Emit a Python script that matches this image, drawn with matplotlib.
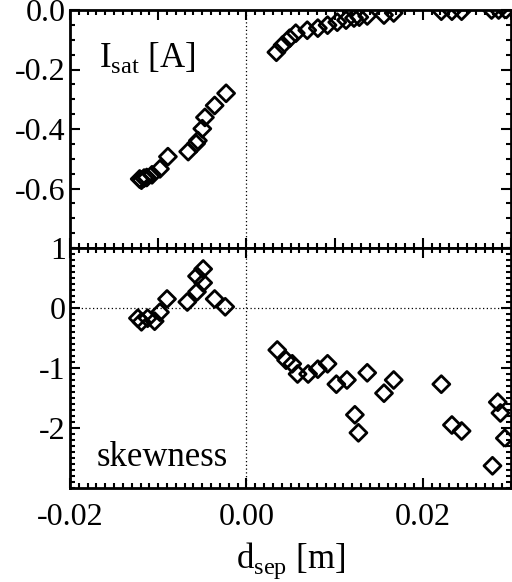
import numpy as np
import matplotlib
matplotlib.use('Agg')
import matplotlib.pyplot as plt
from matplotlib.ticker import MultipleLocator

plt.rcParams['font.family'] = ['Liberation Serif', 'DejaVu Serif']
plt.rcParams['mathtext.fontset'] = 'custom'
plt.rcParams['mathtext.rm'] = 'Liberation Serif'

# Isat [A] vs d_sep
isat_x = [-0.0121, -0.0119, -0.0116, -0.0113, -0.0107, -0.0098, -0.0089,
          -0.0066, -0.0057, -0.0055, -0.0050, -0.0047, -0.0036, -0.0023,
          0.0034, 0.0041, 0.0049, 0.0056, 0.0069, 0.0081, 0.0092, 0.0103,
          0.0113, 0.0122, 0.0128, 0.0137, 0.0156, 0.0167, 0.0221, 0.0233,
          0.0244, 0.0278, 0.0286, 0.0294]
isat_y = [-0.568, -0.572, -0.565, -0.563, -0.554, -0.534, -0.493,
          -0.476, -0.449, -0.439, -0.399, -0.361, -0.321, -0.280,
          -0.142, -0.118, -0.095, -0.078, -0.068, -0.061, -0.051, -0.041,
          -0.034, -0.027, -0.024, -0.020, -0.017, -0.010, -0.004, -0.004,
          -0.004, 0.000, 0.000, 0.000]

# skewness vs d_sep
skew_x = [-0.0123, -0.0119, -0.0112, -0.0104, -0.0098, -0.0090, -0.0067,
          -0.0056, -0.0049, -0.0056, -0.0049, -0.0036, -0.0024,
          0.0035, 0.0045, 0.0052, 0.0058, 0.0070, 0.0081, 0.0092, 0.0102,
          0.0114, 0.0137, 0.0123, 0.0127, 0.0156, 0.0167, 0.0221, 0.0233,
          0.0244, 0.0279, 0.0285, 0.0288, 0.0293]
skew_y = [-0.17, -0.23, -0.17, -0.22, -0.07, 0.15, 0.10,
          0.27, 0.42, 0.53, 0.65, 0.15, 0.02,
          -0.70, -0.87, -0.93, -1.10, -1.10, -1.02, -0.93, -1.27,
          -1.20, -1.08, -1.78, -2.08, -1.42, -1.20, -1.27, -1.95,
          -2.05, -2.63, -1.57, -1.75, -2.17]

fig = plt.figure(figsize=(5.12, 5.82), dpi=100)
L, R = 70 / 512, 511 / 512
ax1 = fig.add_axes([L, 1 - 248 / 582, R - L, 238 / 582])
ax2 = fig.add_axes([L, 1 - 488 / 582, R - L, 240 / 582])

mk = dict(marker='D', s=75, facecolors='none', edgecolors='black',
          linewidths=2.0, clip_on=True, zorder=3)

ax1.scatter(isat_x, isat_y, **mk)
ax2.scatter(skew_x, skew_y, **mk)

for ax in (ax1, ax2):
    ax.set_xlim(-0.02, 0.03)
    ax.axvline(0, color='black', linestyle=(0, (1, 2)), linewidth=0.9)
    ax.xaxis.set_major_locator(MultipleLocator(0.01))
    ax.xaxis.set_minor_locator(MultipleLocator(0.001))
    ax.tick_params(which='both', direction='in', top=True, right=True,
                   labelsize=23, width=1.5)
    ax.tick_params(axis='y', pad=3)
    ax.tick_params(axis='x', pad=11)
    ax.tick_params(which='major', length=7)
    ax.tick_params(which='minor', length=3.5)
    for sp in ax.spines.values():
        sp.set_linewidth(2)

ax1.set_ylim(-0.8, 0.0)
ax1.yaxis.set_major_locator(MultipleLocator(0.2))
ax1.yaxis.set_minor_locator(MultipleLocator(0.05))
ax1.set_yticks([-0.6, -0.4, -0.2, 0.0])
ax1.set_yticklabels(['-0.6', '-0.4', '-0.2', '0.0'])
ax1.set_xticklabels([])
ax1.text(0.065, 0.80, r'I$_{\mathrm{sat}}$ [A]', transform=ax1.transAxes,
         fontsize=25, ha='left', va='center')

ax2.set_ylim(-3, 1)
ax2.yaxis.set_major_locator(MultipleLocator(1))
ax2.yaxis.set_minor_locator(MultipleLocator(0.1))
ax2.set_yticks([-2, -1, 0, 1])
ax2.set_yticklabels(['-2', '-1', '0', '1'])
ax2.axhline(0, color='black', linestyle=(0, (1, 2)), linewidth=0.9)
ax2.set_xticks([-0.02, 0.0, 0.02])
ax2.set_xticklabels(['-0.02', '0.00', '0.02'])
ax2.xaxis.set_minor_locator(MultipleLocator(0.001))
ax2.text(0.06, 0.125, 'skewness', transform=ax2.transAxes,
         fontsize=25, ha='left', va='center')
ax2.set_xlabel(r'd$_{\mathrm{sep}}$ [m]', fontsize=25, labelpad=6)

fig.savefig('out.png', dpi=100, facecolor='white')
